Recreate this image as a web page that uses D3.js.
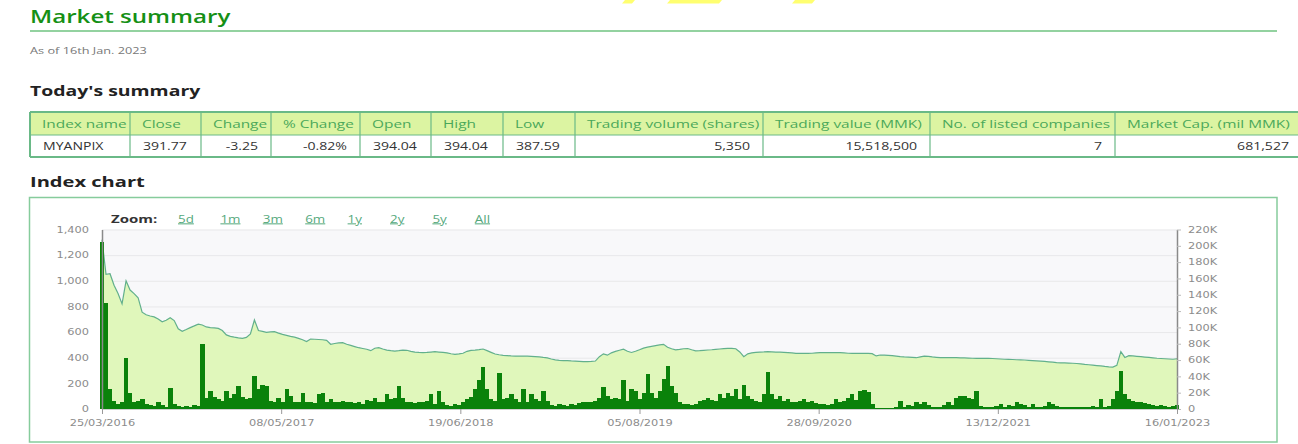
<!DOCTYPE html>
<html>
<head>
<meta charset="utf-8">
<script src="https://cdn.jsdelivr.net/npm/d3@7"></script>
<style>
  body { margin: 0; background: #fff; }
  svg { display: block; }
</style>
</head>
<body>
<div id="page"></div>
<script>
// MYANPIX close, one reading per ~4px of the original chart (oldest first)
const indexValues = [
  1320, 1050, 1055, 965, 900, 820, 1000, 928, 900, 868,
  755, 735, 725, 718, 702, 680, 692, 712, 690, 625,
  606, 620, 635, 648, 662, 655, 640, 634, 632, 629,
  612, 578, 566, 560, 555, 551, 558, 585, 694, 612,
  605, 598, 601, 603, 592, 582, 574, 566, 560, 551,
  540, 526, 546, 544, 542, 540, 535, 505, 511, 515,
  517, 505, 496, 487, 478, 472, 466, 455, 474, 478,
  468, 459, 455, 452, 455, 459, 458, 450, 443, 441,
  440, 441, 444, 447, 444, 441, 438, 431, 426, 430,
  435, 450, 457, 459, 463, 468, 455, 442, 429, 423,
  418, 416, 414, 413, 413, 413, 412, 410, 408, 406,
  402, 399, 390, 383, 380, 378, 377, 375, 374, 372,
  370, 369, 371, 374, 408, 430, 420, 438, 449, 458,
  466, 450, 441, 450, 462, 475, 482, 488, 494, 500,
  504, 482, 470, 461, 465, 470, 472, 462, 453, 455,
  458, 460, 462, 465, 468, 471, 473, 473, 470, 445,
  408, 430, 438, 442, 444, 445, 447, 446, 444, 443,
  442, 440, 437, 434, 434, 434, 434, 435, 437, 439,
  440, 440, 440, 440, 439, 437, 435, 434, 434, 434,
  434, 434, 432, 414, 421, 420, 418, 416, 413, 409,
  406, 404, 402, 400, 407, 413, 410, 406, 403, 400,
  400, 401, 400, 400, 399, 398, 397, 396, 395, 395,
  395, 395, 394, 392, 390, 388, 387, 386, 384, 383,
  382, 380, 378, 376, 374, 371, 368, 365, 362, 360,
  359, 358, 357, 355, 352, 348, 345, 342, 339, 336,
  332, 329, 327, 340, 447, 402, 416, 414, 411, 408,
  405, 402, 399, 396, 394, 392, 390, 388, 391.77
];

// traded volume in thousands of shares, same sampling
const volumeK = [
  205, 130, 25, 10, 6, 8, 62, 20, 8, 10,
  12, 6, 5, 4, 8, 5, 3, 26, 6, 4,
  3, 4, 3, 5, 4, 80, 14, 22, 15, 12,
  10, 22, 14, 18, 28, 15, 12, 14, 40, 25,
  30, 28, 10, 9, 14, 9, 25, 16, 8, 9,
  20, 8, 9, 7, 18, 20, 9, 12, 8, 9,
  10, 8, 9, 7, 8, 6, 11, 10, 14, 8,
  9, 18, 12, 14, 28, 14, 8, 9, 7, 9,
  8, 10, 18, 6, 22, 9, 5, 4, 6, 5,
  8, 12, 15, 24, 35, 51, 25, 12, 10, 44,
  12, 14, 18, 12, 9, 24, 8, 18, 12, 10,
  22, 10, 5, 4, 6, 5, 4, 6, 5, 7,
  8, 8, 9, 10, 14, 27, 16, 12, 14, 12,
  36, 10, 24, 22, 12, 20, 43, 20, 14, 22,
  37, 53, 28, 20, 8, 6, 6, 5, 6, 10,
  11, 13, 11, 10, 18, 14, 20, 16, 24, 12,
  29, 16, 12, 10, 8, 18, 45, 18, 12, 16,
  10, 12, 9, 8, 10, 12, 9, 10, 7, 6,
  6, 5, 6, 12, 9, 10, 14, 18, 11, 22,
  23, 21, 6, 1, 1, 1, 1, 1, 3, 10,
  2, 5, 4, 8, 6, 9, 5, 3, 3, 2,
  5, 8, 5, 14, 16, 16, 14, 12, 22, 4,
  3, 2, 2, 4, 6, 3, 5, 4, 8, 6,
  5, 2, 6, 3, 2, 4, 8, 6, 4, 2,
  3, 2, 2, 2, 3, 2, 3, 4, 2, 12,
  3, 4, 12, 22, 47, 18, 12, 10, 8, 9,
  7, 6, 5, 4, 5, 4, 3, 4, 5
];

const dateLabels = ["25/03/2016", "08/05/2017", "19/06/2018", "05/08/2019", "28/09/2020", "13/12/2021", "16/01/2023"];
const indexTicks = [0, 200, 400, 600, 800, 1000, 1200, 1400];
const volumeTicks = [0, 20, 40, 60, 80, 100, 120, 140, 160, 180, 200, 220];
const zoomLabels = ["5d", "1m", "3m", "6m", "1y", "2y", "5y", "All"];

const tableHeaders = ["Index name", "Close", "Change", "% Change", "Open", "High", "Low",
  "Trading volume (shares)", "Trading value (MMK)", "No. of listed companies", "Market Cap. (mil MMK)"];
const tableRow = ["MYANPIX", "391.77", "-3.25", "-0.82%", "394.04", "394.04", "387.59",
  "5,350", "15,518,500", "7", "681,527"];
const rowAlign = ["l", "l", "r", "r", "l", "l", "l", "r", "r", "r", "r"];

const W = 1298, H = 444;
const SX = 1.34; // the screenshot is stretched sideways
const colEdges = [30, 130, 201, 271, 360, 431, 503, 575, 763, 930, 1115, 1302];
const plot = { left: 102, right: 1177, top: 229.5, bottom: 409 };

const svg = d3.select("#page").append("svg")
  .attr("width", W)
  .attr("height", H)
  .style("font-family", "'Open Sans', sans-serif");

function label(parent, x, y, str, o = {}) {
  return parent.append("text")
    .attr("transform", `translate(${x},${y}) scale(${o.sx || SX},1)`)
    .attr("text-anchor", o.anchor || "start")
    .style("font-family", o.font || "'Open Sans', sans-serif")
    .style("font-size", (o.size || 10) + "px")
    .style("font-weight", o.weight || 400)
    .style("text-decoration", o.underline ? "underline" : null)
    .attr("fill", o.fill || "#333")
    .text(str);
}

function stretchAxisText(g) {
  g.selectAll("text").each(function () {
    const t = d3.select(this);
    const x = +t.attr("x") || 0;
    const y = +t.attr("y") || 0;
    t.attr("transform", `translate(${x},${y}) scale(${SX},1)`).attr("x", 0).attr("y", 0);
  });
}

// watermark bits cut off at the top
[[625, 10], [670, 52], [795, 20]].forEach(([x, w]) => {
  svg.append("path")
    .attr("d", `M${x},0h${w}l-3,3.5h${-w}z`)
    .attr("fill", "#ffff70");
});

// page header
label(svg, 30, 23, "Market summary", { size: 18, weight: 600, fill: "#159015" });
svg.append("line")
  .attr("x1", 30).attr("x2", 1277)
  .attr("y1", 31).attr("y2", 31)
  .attr("stroke", "#93d2a0")
  .attr("stroke-width", 2);
label(svg, 30, 53.5, "As of 16th Jan. 2023", { size: 9.5, fill: "#777" });
label(svg, 30, 96, "Today's summary", { size: 14.5, weight: 700, fill: "#222" });

// summary table
const tTop = 112, tMid = 135, tBot = 157;
const table = svg.append("g");
const defs = svg.append("defs");

table.append("rect")
  .attr("x", colEdges[0]).attr("y", tTop)
  .attr("width", colEdges[colEdges.length - 1] - colEdges[0])
  .attr("height", tMid - tTop)
  .attr("fill", "#dcf4a2");

tableHeaders.forEach((h, i) => {
  const x0 = colEdges[i], x1 = colEdges[i + 1];
  defs.append("clipPath").attr("id", `cell-${i}`)
    .append("rect").attr("x", x0).attr("y", tTop).attr("width", x1 - x0 - 1).attr("height", tMid - tTop);
  label(table.append("g").attr("clip-path", `url(#cell-${i})`), x0 + 12, 127.5, h,
    { size: 11.5, fill: "#4aa85a" });

  const v = tableRow[i];
  if (rowAlign[i] === "l") {
    label(table, x0 + 13, 150, v, { size: 10.5, fill: "#333" });
  } else {
    label(table, x1 - 13, 150, v, { size: 10.5, fill: "#333", anchor: "end" });
  }
});

[tTop, tMid, tBot].forEach((y, k) => {
  table.append("line")
    .attr("x1", colEdges[0]).attr("x2", W)
    .attr("y1", y).attr("y2", y)
    .attr("stroke", "#6ab987")
    .attr("stroke-width", k === 1 ? 1.2 : 2);
});
colEdges.forEach((x, k) => {
  table.append("line")
    .attr("x1", x).attr("x2", x)
    .attr("y1", tTop).attr("y2", tBot)
    .attr("stroke", "#6ab987")
    .attr("stroke-width", k === 0 ? 2 : 1.2);
});

label(svg, 30, 186.5, "Index chart", { size: 15, weight: 700, fill: "#222" });

// chart frame
svg.append("rect")
  .attr("x", 29.5).attr("y", 197.5)
  .attr("width", 1247.5).attr("height", 244.5)
  .attr("fill", "none")
  .attr("stroke", "#86cc9c")
  .attr("stroke-width", 1.5);

// range selector
label(svg, 111, 222.5, "Zoom:", { size: 10, weight: 700, fill: "#333", sx: 1.5 });
zoomLabels.forEach((z, i) => {
  label(svg, 178 + i * 42.4, 222.5, z, { size: 10, fill: "#55a87c", underline: true });
});

// scales
const n = indexValues.length;
const x = d3.scaleLinear().domain([0, n - 1]).range([plot.left, plot.right]);
const yIdx = d3.scaleLinear().domain([0, 1400]).range([plot.bottom, plot.top]);
const yVol = d3.scaleLinear().domain([0, 220]).range([plot.bottom, plot.top]);
const step = x(1) - x(0);

svg.append("rect")
  .attr("x", plot.left).attr("y", plot.top)
  .attr("width", plot.right - plot.left)
  .attr("height", plot.bottom - plot.top)
  .attr("fill", "#f8f8fa");

// gridlines
const grid = svg.append("g")
  .attr("transform", `translate(${plot.left},0)`)
  .call(d3.axisLeft(yIdx).tickValues(indexTicks).tickSize(-(plot.right - plot.left)).tickFormat(""));
grid.select(".domain").remove();
grid.selectAll("line").attr("stroke", "#e8e8ea");

// index area + line
const area = d3.area()
  .x((d, i) => x(i))
  .y0(yIdx(0))
  .y1(d => yIdx(d));
const line = d3.line()
  .x((d, i) => x(i))
  .y(d => yIdx(d));

svg.append("path")
  .datum(indexValues)
  .attr("d", area)
  .attr("fill", "#e0f7bb");
svg.append("path")
  .datum(indexValues)
  .attr("d", line)
  .attr("fill", "none")
  .attr("stroke", "#62b08c")
  .attr("stroke-width", 1.2);

// volume columns
svg.append("g")
  .attr("shape-rendering", "crispEdges")
  .selectAll("rect")
  .data(volumeK)
  .enter()
  .append("rect")
  .attr("x", (d, i) => x(i) - step / 2)
  .attr("width", step + 0.4)
  .attr("y", d => yVol(d))
  .attr("height", d => yVol(0) - yVol(d))
  .attr("fill", "#0a820a");

// axes
const axisFont = "'DejaVu Sans', sans-serif";

const left = svg.append("g")
  .attr("transform", `translate(${plot.left},0)`)
  .call(d3.axisLeft(yIdx).tickValues(indexTicks).tickSize(0).tickPadding(13).tickFormat(d3.format(",")));
left.select(".domain").attr("stroke", "#8a8a8a").attr("stroke-width", 1.5);

const right = svg.append("g")
  .attr("transform", `translate(${plot.right},0)`)
  .call(d3.axisRight(yVol).tickValues(volumeTicks).tickSize(4).tickSizeOuter(0).tickPadding(7)
    .tickFormat(d => (d ? d + "K" : "0")));
right.select(".domain").attr("stroke", "#8a8a8a").attr("stroke-width", 1.5);
right.selectAll(".tick line").attr("stroke", "#bbb");

const tickIdx = dateLabels.map((d, i) => (i * (n - 1)) / (dateLabels.length - 1));
const bottom = svg.append("g")
  .attr("transform", `translate(0,${plot.bottom})`)
  .call(d3.axisBottom(x).tickValues(tickIdx).tickSize(5).tickSizeOuter(0).tickPadding(6)
    .tickFormat((d, i) => dateLabels[i]));
bottom.select(".domain").attr("stroke", "#d0d0d0");
bottom.selectAll(".tick line").attr("stroke", "#999");

[left, right, bottom].forEach(g => {
  g.selectAll("text")
    .style("font-family", axisFont)
    .style("font-size", "8.5px")
    .attr("fill", "#8c8c8c");
  stretchAxisText(g);
});
</script>
</body>
</html>
